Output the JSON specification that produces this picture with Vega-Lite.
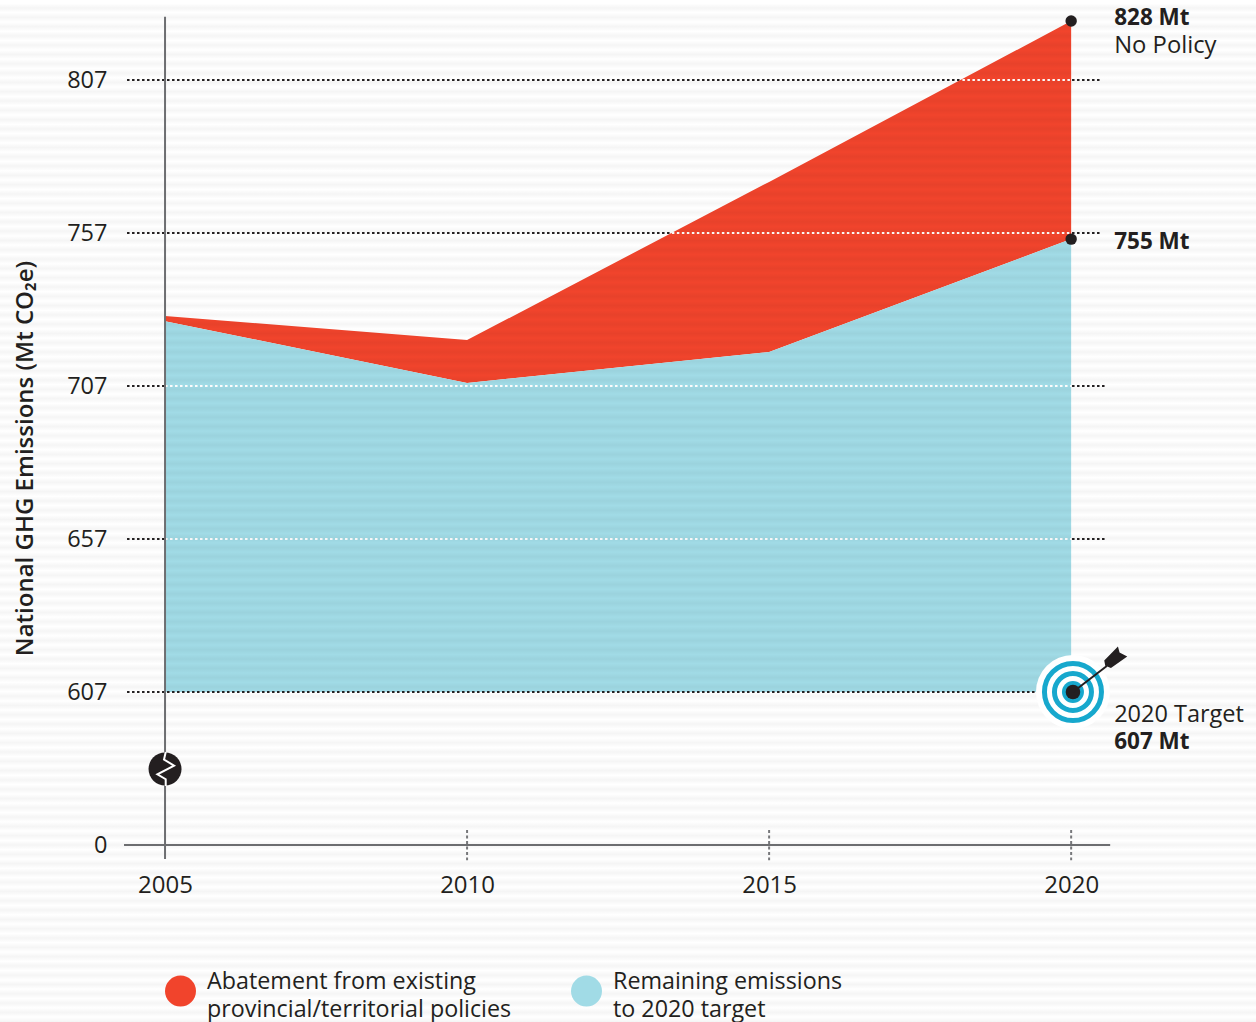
{
"$schema":"https://vega.github.io/schema/vega-lite/v6.json",
"width":1256,"height":1022,"padding":0,"autosize":{"type":"none"},
"background":"#ffffff",
"config":{"view":{"stroke":null},"font":"Open Sans","text":{"font":"Open Sans"}},
"encoding":{
 "x":{"field":"year","type":"quantitative","scale":{"domain":[2002.268,2023.06],"nice":false,"zero":false},
  "axis":{"title":null,"values":[2005,2010,2015,2020],"format":"d","grid":false,"domain":false,"ticks":false,"offset":-177,"labelPadding":28,"labelFontSize":24,"labelColor":"#231f20","labelFont":"Open Sans"}},
 "y":{"field":"value","type":"quantitative","scale":{"domain":[-702,0,607,807,828,835.5],"range":[1022,845,692,80,21,0],"nice":false,"zero":false},
  "axis":{"title":"National GHG Emissions (Mt CO₂e)","values":[0,607,657,707,757,807],"format":"d","grid":false,"domain":false,"ticks":false,"offset":-107,"labelPadding":0,"labelFontSize":23.5,"labelColor":"#231f20","labelFont":"Open Sans","titleFont":"Open Sans","titleFontSize":24,"titleFontWeight":600,"titleColor":"#231f20","titleX":-70,"titleY":458,"titleAngle":-90,"titleAnchor":"middle"}}
},
"layer":[
 {"data":{"values":[{"year":2004.371,"year_end":2020.497,"value":807},{"year":2004.371,"year_end":2020.497,"value":757},{"year":2004.371,"year_end":2020.58,"value":707},{"year":2004.371,"year_end":2020.58,"value":657}]},
  "mark":{"type":"rule","color":"#231f20","strokeWidth":2,"strokeDash":[2.5,2.5]},"encoding":{"x2":{"field":"year_end"}}},
 {"data":{"values":[
  {"year":2005,"value":729.9,"value_end":728.2,"series":"Abatement from existing\nprovincial/territorial policies"},
  {"year":2010,"value":722.0,"value_end":708.0,"series":"Abatement from existing\nprovincial/territorial policies"},
  {"year":2015,"value":773.7,"value_end":718.1,"series":"Abatement from existing\nprovincial/territorial policies"},
  {"year":2020,"value":828,"value_end":755,"series":"Abatement from existing\nprovincial/territorial policies"},
  {"year":2005,"value":728.2,"value_end":607,"series":"Remaining emissions\nto 2020 target"},
  {"year":2010,"value":708.0,"value_end":607,"series":"Remaining emissions\nto 2020 target"},
  {"year":2015,"value":718.1,"value_end":607,"series":"Remaining emissions\nto 2020 target"},
  {"year":2020,"value":755,"value_end":607,"series":"Remaining emissions\nto 2020 target"}]},
  "mark":{"type":"area"},
  "encoding":{"y2":{"field":"value_end"},
   "color":{"field":"series","type":"nominal","scale":{"domain":["Abatement from existing\nprovincial/territorial policies","Remaining emissions\nto 2020 target"],"range":["#f1442c","#a1dbe6"]},
    "legend":{"orient":"none","legendX":165,"legendY":966,"direction":"horizontal","columns":2,"title":null,"symbolType":"circle","symbolSize":961,"symbolStrokeWidth":0,"symbolOpacity":1,"labelFontSize":23.3,"labelFont":"Open Sans","labelColor":"#231f20","labelOffset":11,"labelLimit":420,"columnPadding":59,"labelExpr":"split(datum.label,'\\n')","encode":{"labels":{"update":{"lineHeight":{"value":28}}},"symbols":{"update":{"y":{"value":25}}}}}}}},
 {"data":{"values":[{"year":2018.2,"year_end":2020,"value":807},{"year":2013.39,"year_end":2020,"value":757},{"year":2005,"year_end":2020,"value":707},{"year":2005,"year_end":2020,"value":657}]},
  "mark":{"type":"rule","color":"#ffffff","strokeWidth":2,"strokeDash":[2.5,2.5]},"encoding":{"x2":{"field":"year_end"}}},
 {"data":{"values":[{"year":2002.268,"year_end":2023.06,"value":835.5,"value_end":-702}]},
  "mark":{"type":"rect","fill":{"gradient":"linear","x1":0,"y1":0,"x2":0,"y2":1,"stops":[
{"offset":0.0033,"color":"#0000"},{"offset":0.0078,"color":"#0000000a"},{"offset":0.0124,"color":"#0000"},{"offset":0.0169,"color":"#0000000a"},{"offset":0.0215,"color":"#0000"},{"offset":0.0260,"color":"#0000000a"},{"offset":0.0306,"color":"#0000"},{"offset":0.0351,"color":"#0000000a"},{"offset":0.0397,"color":"#0000"},{"offset":0.0442,"color":"#0000000a"},
{"offset":0.0488,"color":"#0000"},{"offset":0.0533,"color":"#0000000a"},{"offset":0.0579,"color":"#0000"},{"offset":0.0624,"color":"#0000000a"},{"offset":0.0670,"color":"#0000"},{"offset":0.0715,"color":"#0000000a"},{"offset":0.0761,"color":"#0000"},{"offset":0.0806,"color":"#0000000a"},{"offset":0.0852,"color":"#0000"},{"offset":0.0897,"color":"#0000000a"},
{"offset":0.0943,"color":"#0000"},{"offset":0.0988,"color":"#0000000a"},{"offset":0.1034,"color":"#0000"},{"offset":0.1079,"color":"#0000000a"},{"offset":0.1125,"color":"#0000"},{"offset":0.1170,"color":"#0000000a"},{"offset":0.1216,"color":"#0000"},{"offset":0.1261,"color":"#0000000a"},{"offset":0.1307,"color":"#0000"},{"offset":0.1352,"color":"#0000000a"},
{"offset":0.1398,"color":"#0000"},{"offset":0.1443,"color":"#0000000a"},{"offset":0.1489,"color":"#0000"},{"offset":0.1534,"color":"#0000000a"},{"offset":0.1580,"color":"#0000"},{"offset":0.1625,"color":"#0000000a"},{"offset":0.1671,"color":"#0000"},{"offset":0.1716,"color":"#0000000a"},{"offset":0.1762,"color":"#0000"},{"offset":0.1807,"color":"#0000000a"},
{"offset":0.1853,"color":"#0000"},{"offset":0.1898,"color":"#0000000a"},{"offset":0.1944,"color":"#0000"},{"offset":0.1989,"color":"#0000000a"},{"offset":0.2035,"color":"#0000"},{"offset":0.2080,"color":"#0000000a"},{"offset":0.2126,"color":"#0000"},{"offset":0.2171,"color":"#0000000a"},{"offset":0.2217,"color":"#0000"},{"offset":0.2262,"color":"#0000000a"},
{"offset":0.2308,"color":"#0000"},{"offset":0.2353,"color":"#0000000a"},{"offset":0.2399,"color":"#0000"},{"offset":0.2444,"color":"#0000000a"},{"offset":0.2490,"color":"#0000"},{"offset":0.2535,"color":"#0000000a"},{"offset":0.2581,"color":"#0000"},{"offset":0.2626,"color":"#0000000a"},{"offset":0.2672,"color":"#0000"},{"offset":0.2717,"color":"#0000000a"},
{"offset":0.2763,"color":"#0000"},{"offset":0.2808,"color":"#0000000a"},{"offset":0.2854,"color":"#0000"},{"offset":0.2899,"color":"#0000000a"},{"offset":0.2945,"color":"#0000"},{"offset":0.2990,"color":"#0000000a"},{"offset":0.3036,"color":"#0000"},{"offset":0.3081,"color":"#0000000a"},{"offset":0.3127,"color":"#0000"},{"offset":0.3172,"color":"#0000000a"},
{"offset":0.3218,"color":"#0000"},{"offset":0.3263,"color":"#0000000a"},{"offset":0.3309,"color":"#0000"},{"offset":0.3354,"color":"#0000000a"},{"offset":0.3400,"color":"#0000"},{"offset":0.3445,"color":"#0000000a"},{"offset":0.3491,"color":"#0000"},{"offset":0.3536,"color":"#0000000a"},{"offset":0.3582,"color":"#0000"},{"offset":0.3627,"color":"#0000000a"},
{"offset":0.3673,"color":"#0000"},{"offset":0.3718,"color":"#0000000a"},{"offset":0.3764,"color":"#0000"},{"offset":0.3809,"color":"#0000000a"},{"offset":0.3855,"color":"#0000"},{"offset":0.3900,"color":"#0000000a"},{"offset":0.3946,"color":"#0000"},{"offset":0.3991,"color":"#0000000a"},{"offset":0.4037,"color":"#0000"},{"offset":0.4082,"color":"#0000000a"},
{"offset":0.4128,"color":"#0000"},{"offset":0.4173,"color":"#0000000a"},{"offset":0.4219,"color":"#0000"},{"offset":0.4264,"color":"#0000000a"},{"offset":0.4310,"color":"#0000"},{"offset":0.4355,"color":"#0000000a"},{"offset":0.4401,"color":"#0000"},{"offset":0.4446,"color":"#0000000a"},{"offset":0.4492,"color":"#0000"},{"offset":0.4537,"color":"#0000000a"},
{"offset":0.4583,"color":"#0000"},{"offset":0.4628,"color":"#0000000a"},{"offset":0.4674,"color":"#0000"},{"offset":0.4719,"color":"#0000000a"},{"offset":0.4765,"color":"#0000"},{"offset":0.4810,"color":"#0000000a"},{"offset":0.4856,"color":"#0000"},{"offset":0.4901,"color":"#0000000a"},{"offset":0.4947,"color":"#0000"},{"offset":0.4992,"color":"#0000000a"},
{"offset":0.5038,"color":"#0000"},{"offset":0.5083,"color":"#0000000a"},{"offset":0.5129,"color":"#0000"},{"offset":0.5174,"color":"#0000000a"},{"offset":0.5220,"color":"#0000"},{"offset":0.5265,"color":"#0000000a"},{"offset":0.5311,"color":"#0000"},{"offset":0.5356,"color":"#0000000a"},{"offset":0.5402,"color":"#0000"},{"offset":0.5447,"color":"#0000000a"},
{"offset":0.5493,"color":"#0000"},{"offset":0.5538,"color":"#0000000a"},{"offset":0.5584,"color":"#0000"},{"offset":0.5629,"color":"#0000000a"},{"offset":0.5675,"color":"#0000"},{"offset":0.5720,"color":"#0000000a"},{"offset":0.5766,"color":"#0000"},{"offset":0.5811,"color":"#0000000a"},{"offset":0.5857,"color":"#0000"},{"offset":0.5902,"color":"#0000000a"},
{"offset":0.5948,"color":"#0000"},{"offset":0.5993,"color":"#0000000a"},{"offset":0.6039,"color":"#0000"},{"offset":0.6084,"color":"#0000000a"},{"offset":0.6130,"color":"#0000"},{"offset":0.6175,"color":"#0000000a"},{"offset":0.6221,"color":"#0000"},{"offset":0.6266,"color":"#0000000a"},{"offset":0.6312,"color":"#0000"},{"offset":0.6357,"color":"#0000000a"},
{"offset":0.6403,"color":"#0000"},{"offset":0.6448,"color":"#0000000a"},{"offset":0.6494,"color":"#0000"},{"offset":0.6539,"color":"#0000000a"},{"offset":0.6585,"color":"#0000"},{"offset":0.6630,"color":"#0000000a"},{"offset":0.6676,"color":"#0000"},{"offset":0.6721,"color":"#0000000a"},{"offset":0.6767,"color":"#0000"},{"offset":0.6812,"color":"#0000000a"},
{"offset":0.6858,"color":"#0000"},{"offset":0.6903,"color":"#0000000a"},{"offset":0.6949,"color":"#0000"},{"offset":0.6994,"color":"#0000000a"},{"offset":0.7040,"color":"#0000"},{"offset":0.7085,"color":"#0000000a"},{"offset":0.7131,"color":"#0000"},{"offset":0.7176,"color":"#0000000a"},{"offset":0.7222,"color":"#0000"},{"offset":0.7267,"color":"#0000000a"},
{"offset":0.7313,"color":"#0000"},{"offset":0.7358,"color":"#0000000a"},{"offset":0.7404,"color":"#0000"},{"offset":0.7449,"color":"#0000000a"},{"offset":0.7495,"color":"#0000"},{"offset":0.7540,"color":"#0000000a"},{"offset":0.7586,"color":"#0000"},{"offset":0.7631,"color":"#0000000a"},{"offset":0.7677,"color":"#0000"},{"offset":0.7722,"color":"#0000000a"},
{"offset":0.7768,"color":"#0000"},{"offset":0.7813,"color":"#0000000a"},{"offset":0.7859,"color":"#0000"},{"offset":0.7904,"color":"#0000000a"},{"offset":0.7950,"color":"#0000"},{"offset":0.7995,"color":"#0000000a"},{"offset":0.8041,"color":"#0000"},{"offset":0.8086,"color":"#0000000a"},{"offset":0.8132,"color":"#0000"},{"offset":0.8177,"color":"#0000000a"},
{"offset":0.8223,"color":"#0000"},{"offset":0.8268,"color":"#0000000a"},{"offset":0.8314,"color":"#0000"},{"offset":0.8359,"color":"#0000000a"},{"offset":0.8405,"color":"#0000"},{"offset":0.8450,"color":"#0000000a"},{"offset":0.8496,"color":"#0000"},{"offset":0.8541,"color":"#0000000a"},{"offset":0.8587,"color":"#0000"},{"offset":0.8632,"color":"#0000000a"},
{"offset":0.8678,"color":"#0000"},{"offset":0.8723,"color":"#0000000a"},{"offset":0.8769,"color":"#0000"},{"offset":0.8814,"color":"#0000000a"},{"offset":0.8860,"color":"#0000"},{"offset":0.8905,"color":"#0000000a"},{"offset":0.8951,"color":"#0000"},{"offset":0.8996,"color":"#0000000a"},{"offset":0.9042,"color":"#0000"},{"offset":0.9087,"color":"#0000000a"},
{"offset":0.9133,"color":"#0000"},{"offset":0.9178,"color":"#0000000a"},{"offset":0.9224,"color":"#0000"},{"offset":0.9269,"color":"#0000000a"},{"offset":0.9315,"color":"#0000"},{"offset":0.9360,"color":"#0000000a"},{"offset":0.9406,"color":"#0000"},{"offset":0.9451,"color":"#0000000a"},{"offset":0.9497,"color":"#0000"},{"offset":0.9542,"color":"#0000000a"},
{"offset":0.9588,"color":"#0000"},{"offset":0.9633,"color":"#0000000a"},{"offset":0.9679,"color":"#0000"},{"offset":0.9724,"color":"#0000000a"},{"offset":0.9770,"color":"#0000"},{"offset":0.9815,"color":"#0000000a"},{"offset":0.9861,"color":"#0000"},{"offset":0.9906,"color":"#0000000a"},{"offset":0.9952,"color":"#0000"},{"offset":0.9997,"color":"#0000000a"}
]}},
  "encoding":{"x2":{"field":"year_end"},"y2":{"field":"value_end"}}},
 {"data":{"values":[{"year":2004.371,"year_end":2019.4,"value":607}]},
  "mark":{"type":"rule","color":"#231f20","strokeWidth":2,"strokeDash":[2.5,2.5]},"encoding":{"x2":{"field":"year_end"}}},
 {"data":{"values":[{"year":2004.321,"year_end":2020.646,"value":0}]},
  "mark":{"type":"rule","color":"#6d6e71","strokeWidth":2},"encoding":{"x2":{"field":"year_end"}}},
 {"data":{"values":[{"year":2005,"value":829.5,"value_end":-55.5}]},
  "mark":{"type":"rule","color":"#6d6e71","strokeWidth":2},"encoding":{"y2":{"field":"value_end"}}},
 {"data":{"values":[{"year":2010,"value":60,"value_end":-60},{"year":2015,"value":60,"value_end":-60},{"year":2020,"value":60,"value_end":-60}]},
  "mark":{"type":"rule","color":"#77787b","strokeWidth":2,"strokeDash":[3,2.5]},"encoding":{"y2":{"field":"value_end"}}},
 {"data":{"values":[{"year":2005,"value":301.5}]},"mark":{"type":"point","filled":true,"shape":"circle","size":1089,"color":"#231f20","opacity":1}},
 {"data":{"values":[{"year":2005,"value":301.5}]},"mark":{"type":"point","filled":false,"size":1156,"stroke":"#ffffff","strokeWidth":2,"opacity":1,"shape":"M0.04 -1 L-0.06 -0.56 L0.53 -0.2 L-0.45 0.31 L0.04 0.6 L0.04 1"}},
 {"data":{"values":[{"year":2020,"value":828},{"year":2020,"value":755}]},"mark":{"type":"point","filled":true,"shape":"circle","size":130,"color":"#231f20","opacity":1}},
 {"data":{"values":[{"year":2020.03,"value":607}]},"mark":{"type":"point","filled":true,"shape":"circle","size":5476,"color":"#ffffff","opacity":1}},
 {"data":{"values":[{"year":2020.03,"value":607}]},"mark":{"type":"point","filled":false,"shape":"circle","size":3249,"stroke":"#17a8cd","strokeWidth":5,"opacity":1}},
 {"data":{"values":[{"year":2020.03,"value":607}]},"mark":{"type":"point","filled":false,"shape":"circle","size":1369,"stroke":"#17a8cd","strokeWidth":5,"opacity":1}},
 {"data":{"values":[{"year":2020.03,"value":607}]},"mark":{"type":"point","filled":true,"shape":"circle","size":484,"color":"#17a8cd","opacity":1}},
 {"data":{"values":[{"year":2020.03,"value":607}]},"mark":{"type":"point","filled":true,"shape":"circle","size":213,"color":"#231f20","opacity":1}},
 {"data":{"values":[{"year":2020.03,"value":607},{"year":2020.59,"value":615.5}]},"mark":{"type":"line","color":"#231f20","strokeWidth":2}},
 {"data":{"values":[{"year":2020.73,"value":618.4}]},"mark":{"type":"point","filled":true,"size":400,"color":"#231f20","opacity":1,"shape":"M-1.1 0.33 L0.27 -1.07 L0.43 -0.47 L1.2 -0.07 L-0.43 1.1 L-1 0.87 Z"}},
 {"data":{"values":[{"year":2020,"value":828,"label":"828 Mt"}]},"mark":{"type":"text","align":"left","baseline":"middle","dx":43,"dy":-3,"fontSize":22.5,"fontWeight":700,"color":"#231f20"},"encoding":{"text":{"field":"label"}}},
 {"data":{"values":[{"year":2020,"value":828,"label":"No Policy"}]},"mark":{"type":"text","align":"left","baseline":"middle","dx":43,"dy":25,"fontSize":23.8,"color":"#231f20"},"encoding":{"text":{"field":"label"}}},
 {"data":{"values":[{"year":2020,"value":755,"label":"755 Mt"}]},"mark":{"type":"text","align":"left","baseline":"middle","dx":43,"dy":3,"fontSize":22.5,"fontWeight":700,"color":"#231f20"},"encoding":{"text":{"field":"label"}}},
 {"data":{"values":[{"year":2020,"value":607,"label":"2020 Target"}]},"mark":{"type":"text","align":"left","baseline":"middle","dx":43,"dy":23,"fontSize":23.5,"color":"#231f20"},"encoding":{"text":{"field":"label"}}},
 {"data":{"values":[{"year":2020,"value":607,"label":"607 Mt"}]},"mark":{"type":"text","align":"left","baseline":"middle","dx":43,"dy":50,"fontSize":22.5,"fontWeight":700,"color":"#231f20"},"encoding":{"text":{"field":"label"}}}
]
}
